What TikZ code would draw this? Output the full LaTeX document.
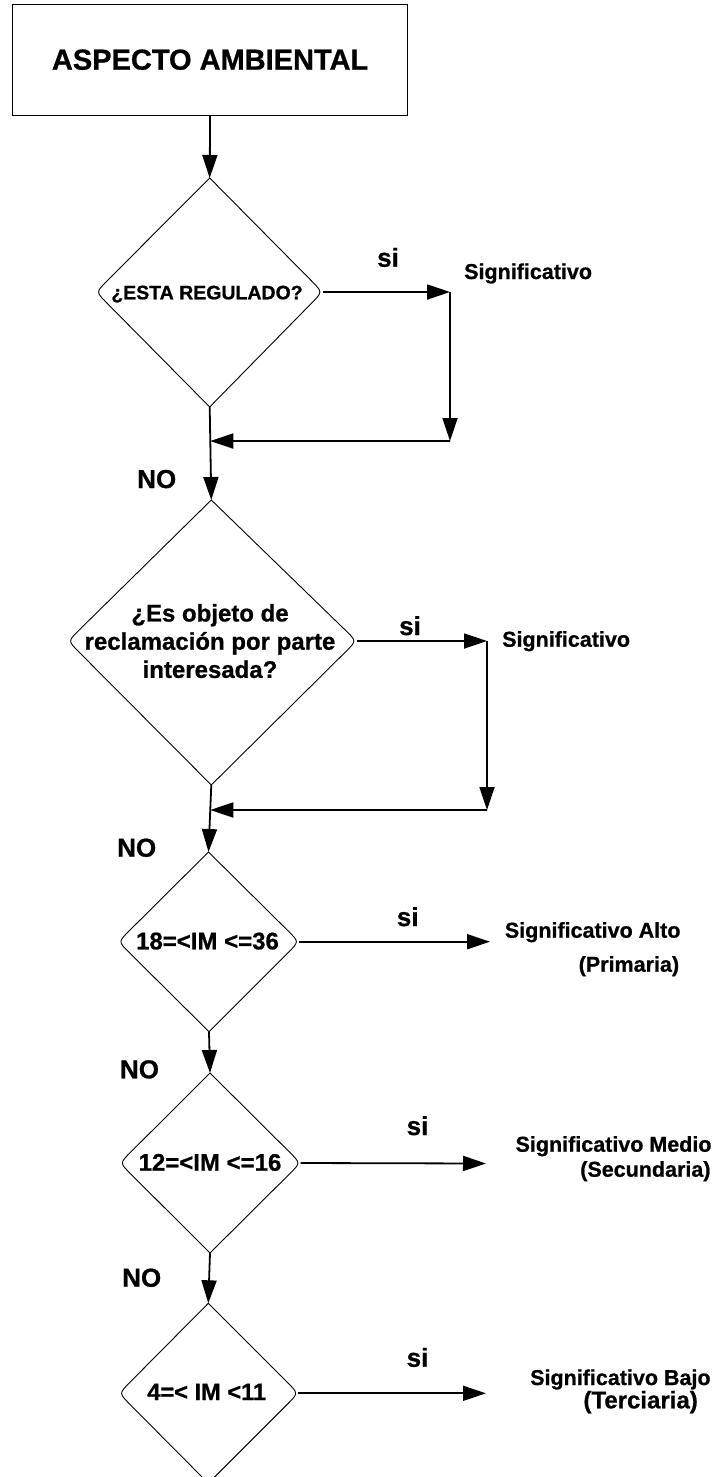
\documentclass[tikz,border=0pt]{standalone}
\usepackage{fontspec}
\setmainfont{Liberation Sans}[BoldFeatures={FakeBold=0.8}]
\usetikzlibrary{arrows.meta,calc}
\tikzset{
  fs/.style={font=\fontsize{#1}{#1}\selectfont\bfseries},
  lbl/.style={inner sep=0pt,text=black},
  dline/.style={line width=0.9pt,line join=miter},
  conn/.style={line width=1.8pt,-{Triangle[length=23pt,width=15pt]}},
}
\newcommand\drawDiamond[1]{%
  \draw[dline] (#1-t) -- ($(#1-l)!15pt!(#1-t)$) .. controls (#1-l) .. ($(#1-l)!15pt!(#1-b)$)
    -- (#1-b) -- ($(#1-r)!15pt!(#1-b)$) .. controls (#1-r) .. ($(#1-r)!15pt!(#1-t)$) -- cycle;}
\begin{document}
\begin{tikzpicture}[x=1pt,y=-1pt]
\useasboundingbox (0,0) rectangle (717,1477);
% box
\node[draw,line width=0.9pt,minimum width=395pt,minimum height=110.7pt,inner sep=0pt,fs=29] (box) at (210.1,59.7) {ASPECTO AMBIENTAL};
% diamond 1
\coordinate (d1-t) at (209.7,178);
\coordinate (d1-l) at (96,292);
\coordinate (d1-r) at (322.5,292);
\coordinate (d1-b) at (209.7,407);
\drawDiamond{d1}
\node[lbl,fs=19.5,anchor=base] (d1) at (207,299.3) {¿ESTA REGULADO?};
% diamond 2
\coordinate (d2-t) at (211.3,500);
\coordinate (d2-l) at (68,641);
\coordinate (d2-r) at (356.5,641);
\coordinate (d2-b) at (211.3,785);
\drawDiamond{d2}
\node[lbl,align=center,font=\fontsize{24}{28.2}\selectfont\bfseries] (d2) at (210,641.1) {¿Es objeto de\\reclamación por parte\\interesada?};
% diamond 3
\coordinate (d3-t) at (208.5,852);
\coordinate (d3-l) at (118.3,941.7);
\coordinate (d3-r) at (299,941.7);
\coordinate (d3-b) at (209,1031.7);
\drawDiamond{d3}
\node[lbl,fs=24,anchor=base] (d3) at (207.5,949.3) {18=<IM <=36};
% diamond 4
\coordinate (d4-t) at (210,1073);
\coordinate (d4-l) at (119.8,1163);
\coordinate (d4-r) at (300.5,1163);
\coordinate (d4-b) at (210,1253);
\drawDiamond{d4}
\node[lbl,fs=24,anchor=base] (d4) at (210,1170.7) {12=<IM <=16};
% diamond 5
\coordinate (d5-t) at (208.3,1303.3);
\coordinate (d5-l) at (119,1393.3);
\coordinate (d5-r) at (298.3,1393.3);
\coordinate (d5-b) at (208.3,1483.3);
\drawDiamond{d5}
\node[lbl,fs=23.6,anchor=base] (d5) at (206.7,1400) {4=< IM <11};
% helper coordinates
\coordinate (c1a) at (450,292);
\coordinate (c1b) at (450,441);
\coordinate (c2a) at (487,641);
\coordinate (c2b) at (487,810);
\coordinate (e3) at (490,941.7);
\coordinate (e4) at (486,1163.5);
\coordinate (e5) at (486,1393.3);
% connectors
\draw[conn] (box.south) -- (d1-t);
\draw[conn] (d1-r) -- (c1a);
\draw[conn] (c1a) -- (c1b);
\draw[conn] (c1b) -- ($(d1-b)!0.366!(d2-t)$);
\draw[conn] (d1-b) -- (d2-t);
\draw[conn] (d2-r) -- (c2a);
\draw[conn] (c2a) -- (c2b);
\draw[conn] (c2b) -- ($(d2-b)!0.373!(d3-t)$);
\draw[conn] (d2-b) -- (d3-t);
\draw[conn] (d3-r) -- (e3);
\draw[conn] (d3-b) -- (d4-t);
\draw[conn] (d4-r) -- (e4);
\draw[conn] (d4-b) -- (d5-t);
\draw[conn] (d5-r) -- (e5);
% labels
\node[lbl,fs=26,anchor=base west] (si1) at (377,266.7) {si};
\node[lbl,fs=21.5,anchor=base west] (s1) at (464,279) {Significativo};
\node[lbl,fs=26,anchor=base west] (no1) at (137,488) {NO};
\node[lbl,fs=26,anchor=base west] (si2) at (399,635) {si};
\node[lbl,fs=21.5,anchor=base west] (s2) at (502,646.7) {Significativo};
\node[lbl,fs=26,anchor=base west] (no2) at (117,856.7) {NO};
\node[lbl,fs=26,anchor=base west] (si3) at (396.7,926) {si};
\node[lbl,fs=21.5,anchor=base east] (s3a) at (680.7,937.7) {Significativo Alto};
\node[lbl,fs=21.5,anchor=base east] (s3b) at (679.3,971.7) {(Primaria)};
\node[lbl,fs=26,anchor=base west] (no3) at (119.8,1078.3) {NO};
\node[lbl,fs=26,anchor=base west] (si4) at (406.5,1135) {si};
\node[lbl,fs=21.5,anchor=base east] (s4a) at (711.7,1151.7) {Significativo Medio};
\node[lbl,fs=21.5,anchor=base east] (s4b) at (710.7,1176.7) {(Secundaria)};
\node[lbl,fs=26,anchor=base west] (no4) at (122,1286.7) {NO};
\node[lbl,fs=26,anchor=base west] (si5) at (406.5,1366.7) {si};
\node[lbl,fs=21.5,anchor=base west] (s5a) at (530,1385) {Significativo Bajo};
\node[lbl,fs=24,anchor=base west] (s5b) at (583.3,1408.3) {(Terciaria)};
\end{tikzpicture}
\end{document}
